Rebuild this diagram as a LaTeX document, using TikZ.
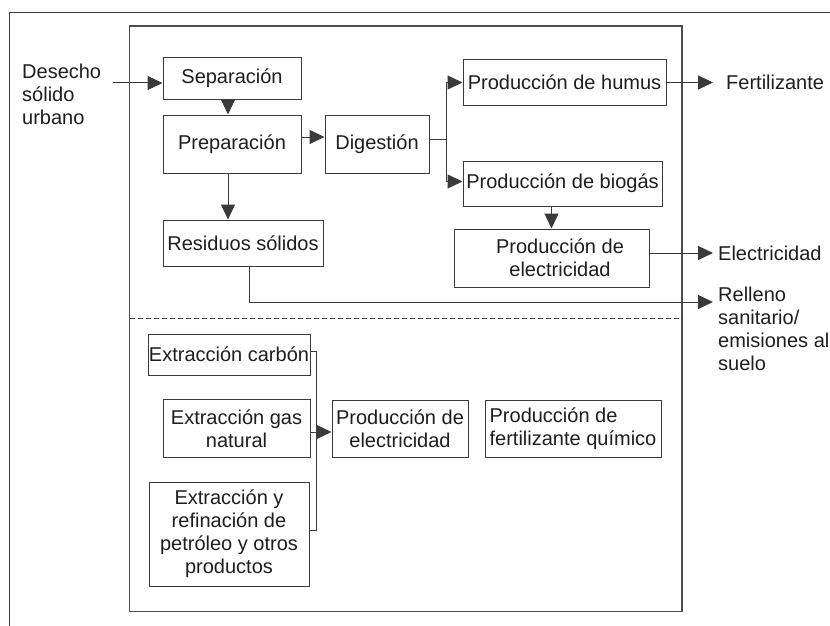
\documentclass[tikz,border=0pt]{standalone}
\usepackage{fontspec}
\setmainfont{Liberation Sans}
\usetikzlibrary{arrows.meta}

\definecolor{ink}{HTML}{1E1E1E}
\definecolor{rule}{HTML}{3A3A3A}

\tikzset{
  base/.style={font={\fontsize{20}{23}\selectfont}, text=ink},
  box/.style={base, draw=rule, line width=1pt, inner sep=0pt, align=center},
  txt/.style={base, inner sep=0pt, align=left, anchor=west},
  link/.style={draw=rule, line width=1pt},
  flow/.style={link, -{Triangle[length=15pt,width=14pt]}},
}

\begin{document}
\begin{tikzpicture}[x=1pt, y=-1pt]
\useasboundingbox (0,0) rectangle (830,626);
\fill[white] (0,0) rectangle (830,626);

% outer frame (top and left edges)
\draw[link] (830,12.7) -- (9.5,12.7) -- (9.5,626);
% process boundary and its divider
\draw[draw=rule!90, line width=1.3pt] (129.5,26) rectangle (682,611.5);
\draw[link, dash pattern=on 5pt off 3pt] (129.5,318) -- (682,318);

% --- waste treatment chain ---
\node[box, minimum width=138pt, minimum height=41pt] (sep) at (232,78.5) {Separación};
\node[box, minimum width=138pt, minimum height=58pt] (prep) at (232,144) {Preparación};
\node[box, minimum width=104pt, minimum height=58pt] (dig) at (377,144) {Digestión};
\node[box, minimum width=160pt, minimum height=46pt] (res) at (243,243) {Residuos sólidos};
\node[box, minimum width=203pt, minimum height=45pt] (hum) at (564.5,82.5) {Producción de humus};
\node[box, minimum width=199pt, minimum height=45pt] (bio) at (562.5,183.5) {Producción de biogás};
\node[box, minimum width=195pt, minimum height=58pt] (elec) at (551.5,258) {};
\node[base, inner sep=0pt, align=center] (elect) at (560,257.5) {Producción de\\electricidad};

% inputs and outputs
\node[txt] (des) at (22,94) {Desecho\\sólido\\urbano};
\node[txt] (fert) at (726,82.5) {Fertilizante};
\node[txt] (elo) at (718,253) {Electricidad};
\node[txt] (rel) at (718,329) {Relleno\\sanitario/\\emisiones al\\suelo};

\coordinate (desStart) at (113,83);
\coordinate (fertTip) at (713,82.5);
\coordinate (eloTip) at (713,253);
\coordinate (relTip) at (713,302);
\coordinate (jn) at (446.5,139);
\coordinate (p1) at ([xshift=-4pt]sep.south);
\coordinate (p2) at ([xshift=-4pt]prep.south);
\coordinate (p3) at ([xshift=6pt]res.south);

\draw[flow] (desStart) -- (desStart -| sep.west);
\draw[flow] (p1) -- (p1 |- prep.north);
\draw[flow] ([yshift=7pt]prep.east) -- ([yshift=7pt]dig.west);
\draw[flow] (p2) -- (p2 |- res.north);
\draw[link] (dig.east |- jn) -- (jn);
\draw[flow] (jn) |- (hum.west);
\draw[flow] (jn) |- ([yshift=2pt]bio.west);
\draw[flow] (hum.east) -- (fertTip);
\draw[flow] (bio.south -| elec.north) -- (elec.north);
\draw[flow] ([yshift=5pt]elec.east) -- (eloTip);
\draw[flow] (p3) |- (relTip);

% --- conventional chain ---
\node[box, minimum width=162pt, minimum height=41pt] (carb) at (229,354.5) {Extracción carbón};
\node[box, minimum width=147pt, minimum height=58pt] (gas) at (236.5,428.5) {Extracción gas\\natural};
\node[box, minimum width=160pt, minimum height=104pt] (refi) at (229,534) {Extracción y\\refinación de\\petróleo y otros\\productos};
\node[box, minimum width=136pt, minimum height=57pt] (elec2) at (400,428.5) {Producción de\\electricidad};
\node[box, minimum width=176pt, minimum height=57pt, align=left] (fq) at (573,428.5) {Producción de\\fertilizante químico};

\coordinate (busTop) at (316,351);
\coordinate (busMid) at (316,432);
\coordinate (busBot) at (316,530);
\draw[link] (carb.east |- busTop) -- (busTop) -- (busBot) -- (refi.east |- busBot);
\draw[link] (gas.east |- busMid) -- (busMid);
\draw[flow] (busMid) -- (busMid -| elec2.west);
\end{tikzpicture}
\end{document}
